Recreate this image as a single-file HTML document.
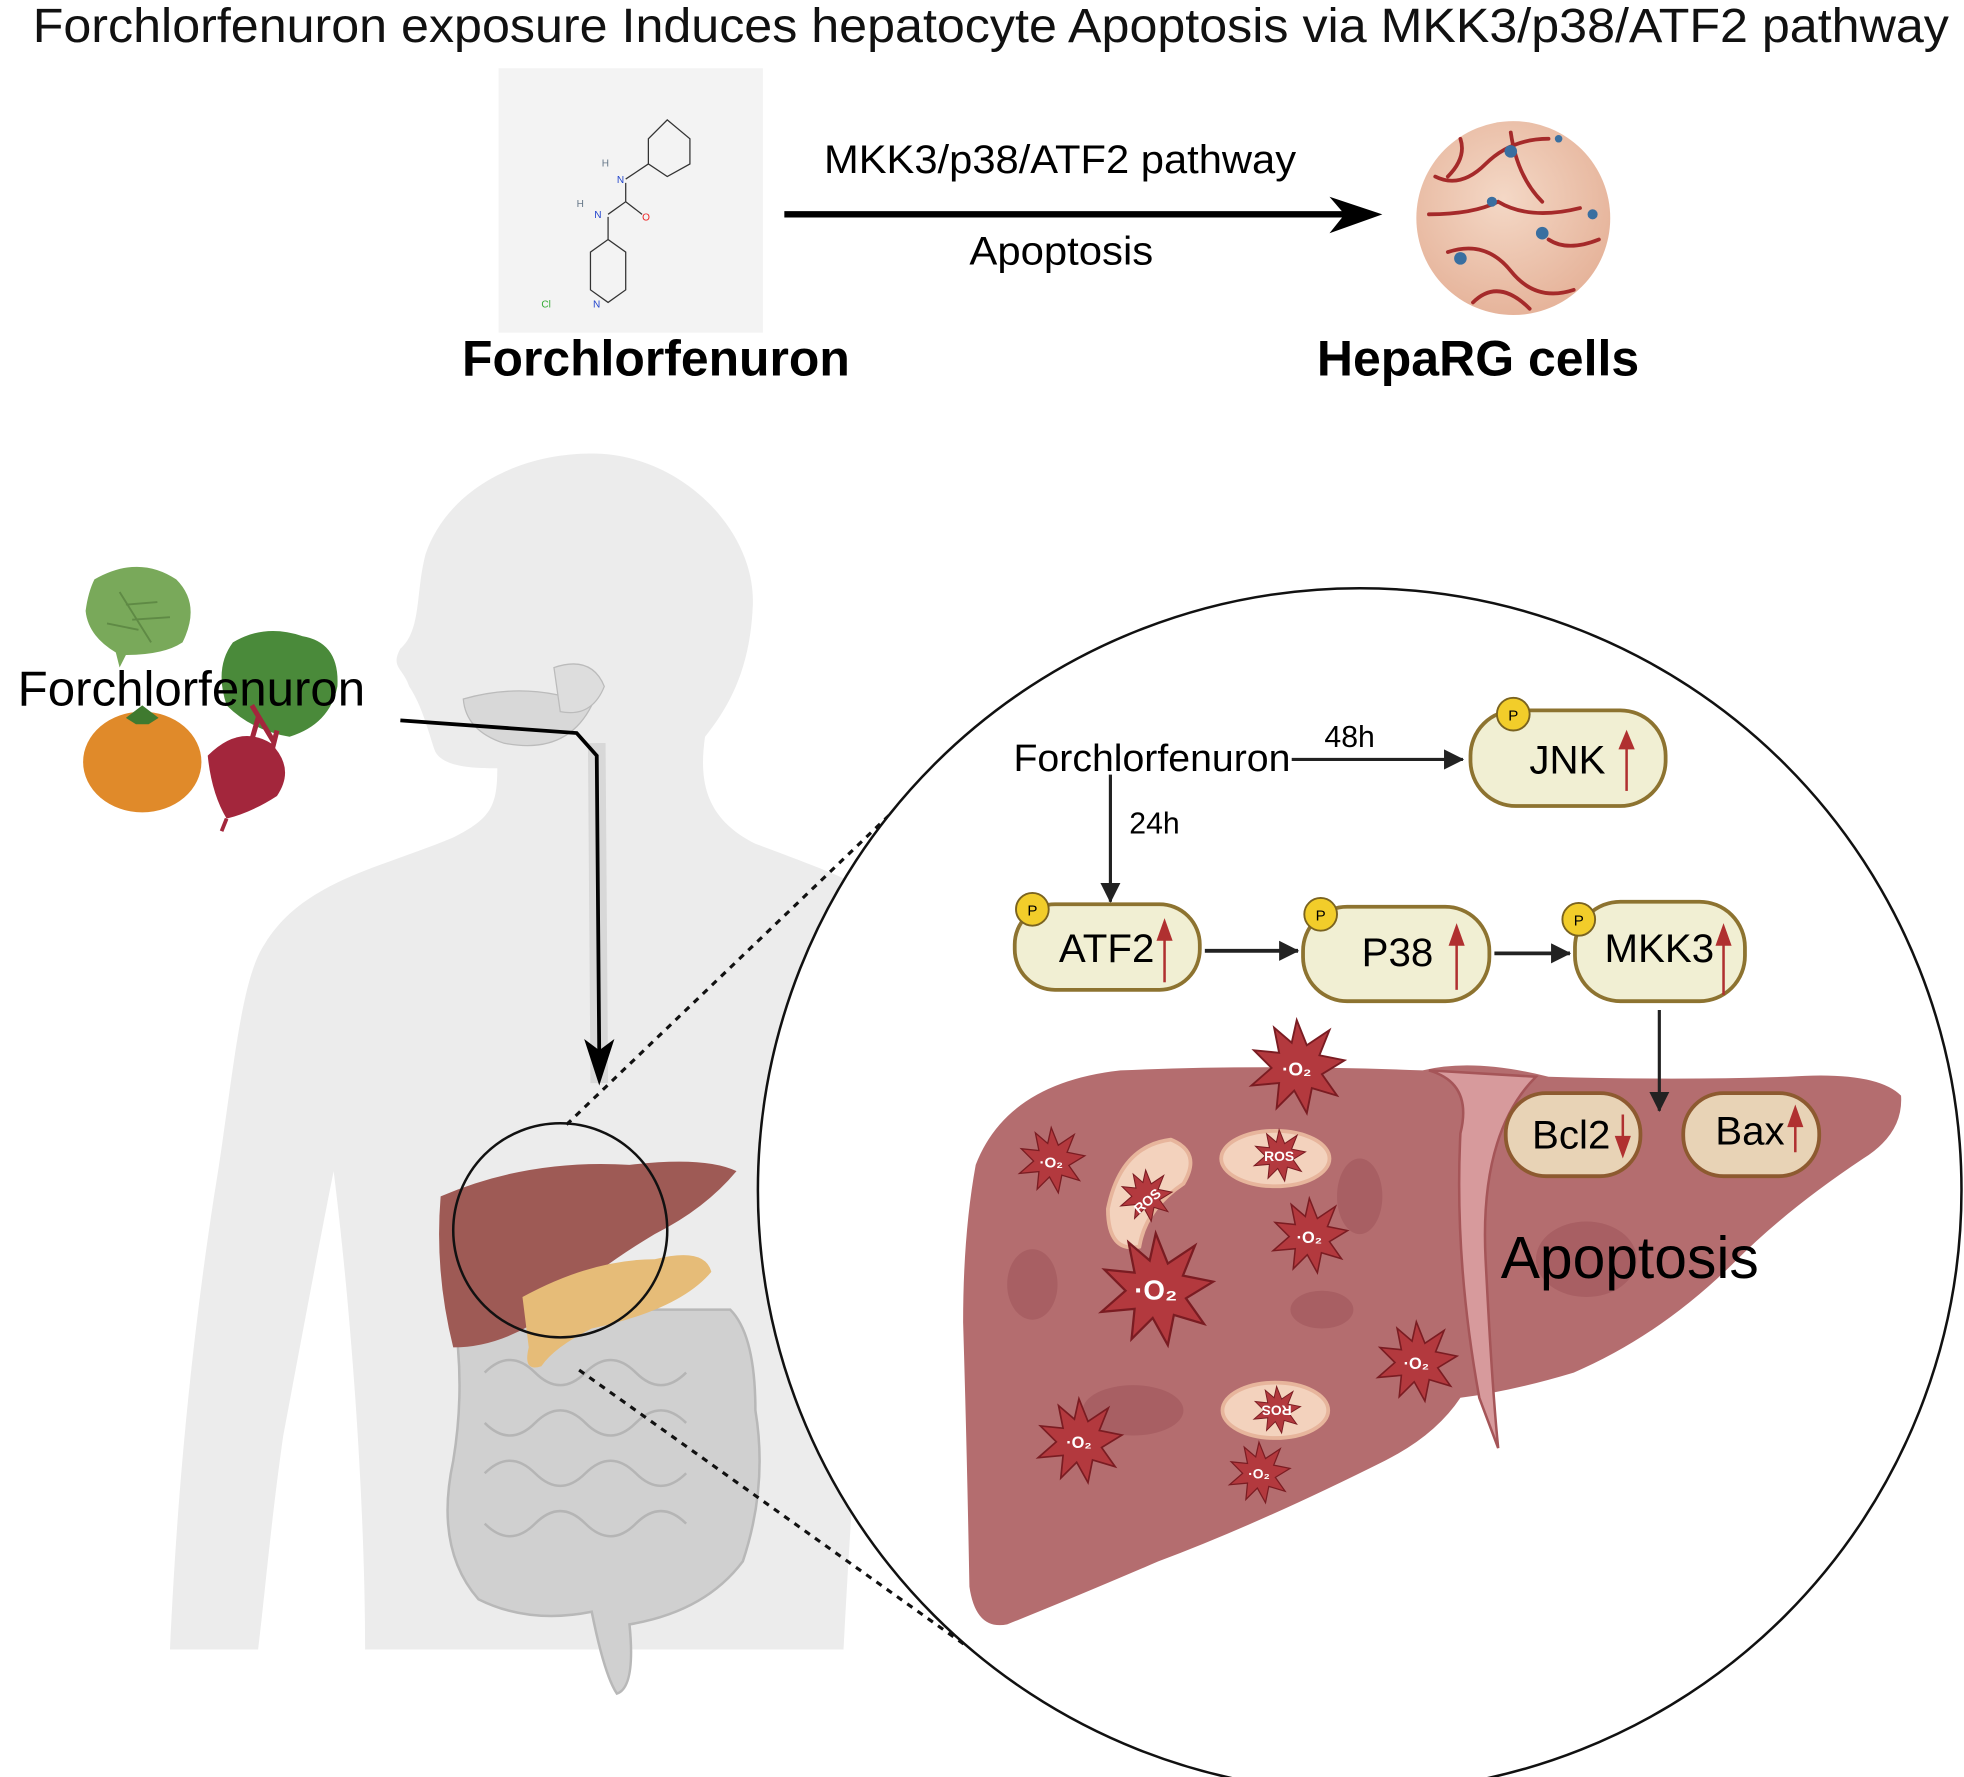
<!DOCTYPE html>
<html><head><meta charset="utf-8"><style>
html,body{margin:0;padding:0;background:#fff}
svg{display:block}
text{font-family:"Liberation Sans",Arial,sans-serif}
</style></head><body>
<svg width="1964" height="1777" viewBox="0 0 1560 1411" xmlns="http://www.w3.org/2000/svg">
<defs>
<marker id="ah2" markerWidth="16" markerHeight="16" refX="15" refY="8" orient="auto" markerUnits="userSpaceOnUse"><path d="M0,0 L16,8 L0,16 Z" fill="#222"/></marker>
<radialGradient id="cell" cx="45%" cy="40%" r="60%"><stop offset="0" stop-color="#f4d8c6"/><stop offset="1" stop-color="#e6b49b"/></radialGradient>
<path id="st" d="M0,-38 L8,-18 L26,-30 L18,-10 L38,-6 L20,5 L32,22 L12,16 L8,36 L-2,18 L-16,32 L-14,12 L-36,14 L-20,0 L-34,-14 L-14,-12 L-18,-32 L-4,-20 Z"/>
</defs>

<text x="787" y="33" font-size="38.5" text-anchor="middle" fill="#111" textLength="1522" lengthAdjust="spacingAndGlyphs">Forchlorfenuron exposure Induces hepatocyte Apoptosis via MKK3/p38/ATF2 pathway</text>

<!-- molecule -->
<rect x="396" y="54" width="210" height="210" fill="#f3f3f3"/>
<g stroke="#333" stroke-width="1" fill="none">
<path d="M530,95 L548,110 L548,130 L530,140 L515,130 L515,110 Z"/>
<path d="M515,130 L497,142 M497,145 L497,160 L483,170 M497,160 L510,170 M483,172 L483,190 L497,200 L497,230 L483,240 L469,230 L469,200 L483,190"/>
</g>
<text x="478" y="132" font-size="8" fill="#678">H</text><text x="490" y="145" font-size="8" fill="#24c">N</text>
<text x="458" y="164" font-size="8" fill="#678">H</text><text x="472" y="173" font-size="8" fill="#24c">N</text>
<text x="510" y="175" font-size="8" fill="#e22">O</text>
<text x="430" y="244" font-size="8" fill="#3a3">Cl</text><text x="471" y="244" font-size="8" fill="#24c">N</text>

<line x1="623" y1="170" x2="1078" y2="170" stroke="#000" stroke-width="5"/>
<path d="M1056,156 L1098,170 L1056,185 L1068,170 Z" fill="#000"/>
<text x="842" y="137" font-size="32" text-anchor="middle" textLength="375" lengthAdjust="spacingAndGlyphs">MKK3/p38/ATF2 pathway</text>
<text x="843" y="210" font-size="32" text-anchor="middle" textLength="146" lengthAdjust="spacingAndGlyphs">Apoptosis</text>

<circle cx="1202" cy="173" r="77" fill="url(#cell)"/>
<g stroke="#a52a2a" stroke-width="3" fill="none" stroke-linecap="round">
<path d="M1140,140 Q1160,150 1180,130 T1230,110 M1150,200 Q1180,190 1200,215 T1250,230 M1170,240 Q1190,220 1215,245 M1135,170 Q1170,170 1190,160 Q1215,175 1255,165 M1200,105 Q1205,140 1225,160 M1230,190 Q1245,200 1270,190 M1160,110 Q1165,125 1150,140"/>
</g>
<g fill="#3a6fa0"><circle cx="1160" cy="205" r="5"/><circle cx="1225" cy="185" r="5"/><circle cx="1200" cy="120" r="5"/><circle cx="1185" cy="160" r="4"/><circle cx="1265" cy="170" r="4"/><circle cx="1238" cy="110" r="3"/></g>

<text x="521" y="298" font-size="39.5" font-weight="bold" text-anchor="middle" textLength="308" lengthAdjust="spacingAndGlyphs">Forchlorfenuron</text>
<text x="1174" y="298" font-size="39.5" font-weight="bold" text-anchor="middle" textLength="256" lengthAdjust="spacingAndGlyphs">HepaRG cells</text>

<!-- human silhouette -->
<path d="M470,360 C540,360 600,420 598,480 C596,530 580,560 560,585 C555,620 560,650 600,670 C680,700 740,720 760,780 C780,870 790,950 800,1040 C810,1110 820,1200 830,1300 L770,1310 C760,1240 740,1150 730,1060 C720,1000 710,960 700,930 C690,1020 680,1120 670,1310 L290,1310 C290,1200 280,1050 265,930 C255,980 240,1060 225,1140 C215,1210 210,1270 205,1310 L135,1310 C140,1200 150,1080 170,950 C185,860 190,780 210,750 C240,700 300,690 360,665 C390,650 395,640 395,610 C380,610 350,610 345,595 C340,580 335,560 325,545 C320,530 310,530 318,515 C335,500 330,470 338,440 C355,390 410,360 470,360 Z" fill="#ececec"/>
<path d="M368,555 Q420,540 470,560 Q450,600 400,590 Q370,580 368,555Z" fill="#d8d8d8" stroke="#bbb"/>
<path d="M440,530 Q470,520 480,545 Q470,570 445,565Z" fill="#ddd" stroke="#bbb"/>
<path d="M474,590 L476,860" stroke="#d8d8d8" stroke-width="14"/>
<path d="M360,1040 Q370,1100 360,1160 Q345,1230 380,1270 Q420,1290 470,1280 Q480,1330 490,1345 Q505,1340 500,1290 Q560,1280 590,1240 Q610,1180 600,1120 Q600,1060 580,1040 Z" fill="#d0d0d0" stroke="#b8b8b8" stroke-width="2"/>
<g fill="none" stroke="#b5b5b5" stroke-width="2"><path d="M385,1090 q20,-20 40,0 t40,0 t40,0 t40,0 M385,1130 q20,20 40,0 t40,0 t40,0 t40,0 M385,1170 q20,-20 40,0 t40,0 t40,0 t40,0 M385,1210 q20,20 40,0 t40,0 t40,0 t40,0"/></g>
<path d="M350,950 Q420,920 500,925 Q560,918 585,930 Q560,960 520,980 Q470,1010 440,1040 Q400,1070 360,1070 Q345,1010 350,950Z" fill="#9e5a55"/>
<path d="M415,1030 Q470,1000 520,1000 Q560,990 565,1010 Q540,1040 470,1055 Q440,1070 430,1085 Q415,1090 420,1070Z" fill="#e6bc78"/>

<!-- vegetables -->
<path d="M75,460 Q110,440 140,460 Q160,480 145,510 Q130,520 100,520 L95,530 L92,518 Q70,505 68,485 Q70,470 75,460Z" fill="#79a95a"/>
<path d="M95,470 L120,510 M100,480 L125,478 M105,492 L135,490 M85,495 L110,500" stroke="#5f8a45" stroke-width="1.5"/>
<path d="M185,510 Q210,495 240,505 Q270,510 268,545 Q262,575 230,585 Q200,580 180,560 Q170,530 185,510Z" fill="#4a8a3a"/>
<path d="M200,560 L218,590 M220,580 L215,600 M205,570 L195,605" stroke="#a3263c" stroke-width="4"/>
<ellipse cx="113" cy="605" rx="47" ry="40" fill="#e08a2a"/>
<path d="M100,570 L113,560 L126,570 L118,575 L108,575Z" fill="#3f7a2f"/>
<path d="M165,600 Q190,575 215,590 Q235,610 220,632 Q200,645 180,650 Q168,630 165,600Z" fill="#a3263c"/>
<path d="M180,650 L176,660" stroke="#a3263c" stroke-width="3"/>

<text x="14" y="560" font-size="39" textLength="276" lengthAdjust="spacingAndGlyphs">Forchlorfenuron</text>
<path d="M318,572 L458,582 L474,600 L476,840" fill="none" stroke="#000" stroke-width="3"/>
<path d="M464,825 L476,862 L488,825 L476,834 Z" fill="#000"/>

<circle cx="445" cy="977" r="85" fill="none" stroke="#111" stroke-width="2"/>
<line x1="450" y1="893" x2="766" y2="590" stroke="#111" stroke-width="2.5" stroke-dasharray="5,5"/>
<line x1="460" y1="1088" x2="766" y2="1306" stroke="#111" stroke-width="2.5" stroke-dasharray="5,5"/>

<circle cx="1080" cy="945" r="478" fill="#fff" stroke="#111" stroke-width="2"/>

<!-- big liver -->
<path d="M775,925 Q800,860 890,850 Q1000,845 1130,850 Q1170,840 1230,855 Q1330,858 1420,855 Q1490,850 1510,870 Q1512,900 1480,920 Q1420,960 1380,1000 Q1320,1060 1250,1090 Q1200,1105 1160,1110 Q1140,1140 1100,1160 Q1000,1210 920,1240 Q850,1270 800,1290 Q775,1295 770,1260 Q768,1150 765,1050 Q765,980 775,925Z" fill="#b46d6f"/>
<path d="M1135,850 Q1170,860 1160,900 Q1155,1000 1175,1110 L1190,1150 Q1185,1100 1180,1000 Q1175,900 1220,855Z" fill="#d79a9c" stroke="#a55558" stroke-width="2"/>
<g fill="#a35a5e" opacity="0.7">
<ellipse cx="820" cy="1020" rx="20" ry="28"/><ellipse cx="900" cy="1120" rx="40" ry="20"/><ellipse cx="1080" cy="950" rx="18" ry="30"/><ellipse cx="1260" cy="1000" rx="40" ry="30"/><ellipse cx="1050" cy="1040" rx="25" ry="15"/>
</g>

<!-- mitochondria -->
<g fill="#f3d2bd" stroke="#e7b59c" stroke-width="3">
<path d="M880,960 Q890,910 930,905 Q955,915 940,940 Q910,960 905,990 Q880,995 880,960Z"/>
<ellipse cx="1013" cy="920" rx="43" ry="22"/>
<ellipse cx="1013" cy="1120" rx="42" ry="22"/>
</g>

<!-- stars -->
<g fill="#b3393e" stroke="#7a1c22" stroke-width="1.5">
<use href="#st" transform="translate(1030,848)"/>
<use href="#st" transform="translate(835,922) scale(0.7)"/>
<use href="#st" transform="translate(1040,982) scale(0.8)"/>
<use href="#st" transform="translate(918,1025) scale(1.2)"/>
<use href="#st" transform="translate(1125,1082) scale(0.85)"/>
<use href="#st" transform="translate(857,1145) scale(0.9)"/>
<use href="#st" transform="translate(1000,1170) scale(0.65)"/>
<use href="#st" transform="translate(910,950) scale(0.55)"/>
<use href="#st" transform="translate(1016,918) scale(0.55)"/>
<use href="#st" transform="translate(1014,1120) scale(0.5)"/>
</g>
<g fill="#fff" font-weight="bold" text-anchor="middle">
<text x="1030" y="854" font-size="15">·O₂</text>
<text x="835" y="927" font-size="12">·O₂</text>
<text x="1040" y="987" font-size="13">·O₂</text>
<text x="918" y="1032" font-size="22">·O₂</text>
<text x="1125" y="1087" font-size="13">·O₂</text>
<text x="857" y="1150" font-size="13">·O₂</text>
<text x="1000" y="1174" font-size="11">·O₂</text>
<text x="910" y="958" font-size="11" transform="rotate(-40 910 952)">ROS</text>
<text x="1016" y="922" font-size="11">ROS</text>
<text x="1014" y="1124" font-size="11" transform="rotate(180 1014 1120)">ROS</text>
</g>

<!-- pathway -->
<text x="805" y="612" font-size="30" textLength="220" lengthAdjust="spacingAndGlyphs">Forchlorfenuron</text>
<line x1="1026" y1="603" x2="1162" y2="603" stroke="#222" stroke-width="2.5" marker-end="url(#ah2)"/>
<text x="1072" y="593" font-size="24" text-anchor="middle">48h</text>
<line x1="882" y1="615" x2="882" y2="716" stroke="#222" stroke-width="2.5" marker-end="url(#ah2)"/>
<text x="897" y="662" font-size="24">24h</text>

<g stroke="#8d7330" stroke-width="3" fill="#f1efd3">
<rect x="1168" y="564" width="155" height="76" rx="36"/>
<rect x="806" y="718" width="147" height="68" rx="32"/>
<rect x="1035" y="720" width="148" height="75" rx="35"/>
<rect x="1251" y="716" width="135" height="79" rx="36"/>
</g>
<g stroke="#8d5a30" stroke-width="3" fill="#e8d3b6">
<rect x="1196" y="868" width="107" height="66" rx="32"/>
<rect x="1337" y="868" width="108" height="66" rx="32"/>
</g>
<g fill="#f2cd2a" stroke="#7a6320" stroke-width="1.5">
<circle cx="1202" cy="567" r="13"/><circle cx="820" cy="722" r="13"/><circle cx="1049" cy="726" r="13"/><circle cx="1254" cy="730" r="13"/>
</g>
<g font-size="12" text-anchor="middle"><text x="1202" y="572">P</text><text x="820" y="727">P</text><text x="1049" y="731">P</text><text x="1254" y="735">P</text></g>
<g font-size="32" text-anchor="middle">
<text x="1245" y="614">JNK</text><text x="879" y="764">ATF2</text><text x="1110" y="767">P38</text><text x="1318" y="764">MKK3</text>
<text x="1248" y="912">Bcl2</text><text x="1390" y="909">Bax</text>
</g>
<g stroke="#b03030" stroke-width="2" fill="#b03030">
<line x1="1292" y1="628" x2="1292" y2="592"/><path d="M1287,594 L1292,582 L1297,594Z"/>
<line x1="925" y1="780" x2="925" y2="744"/><path d="M920,746 L925,732 L930,746Z"/>
<line x1="1157" y1="786" x2="1157" y2="748"/><path d="M1152,750 L1157,736 L1162,750Z"/>
<line x1="1369" y1="790" x2="1369" y2="748"/><path d="M1364,750 L1369,736 L1374,750Z"/>
<line x1="1289" y1="885" x2="1289" y2="905"/><path d="M1284,903 L1289,917 L1294,903Z"/>
<line x1="1426" y1="915" x2="1426" y2="892"/><path d="M1421,894 L1426,880 L1431,894Z"/>
</g>
<line x1="957" y1="755" x2="1031" y2="755" stroke="#222" stroke-width="3" marker-end="url(#ah2)"/>
<line x1="1187" y1="757" x2="1247" y2="757" stroke="#222" stroke-width="3" marker-end="url(#ah2)"/>
<line x1="1318" y1="802" x2="1318" y2="882" stroke="#222" stroke-width="2.5" marker-end="url(#ah2)"/>
<text x="1192" y="1015" font-size="47" textLength="205" lengthAdjust="spacingAndGlyphs">Apoptosis</text>
</svg>
</body></html>
